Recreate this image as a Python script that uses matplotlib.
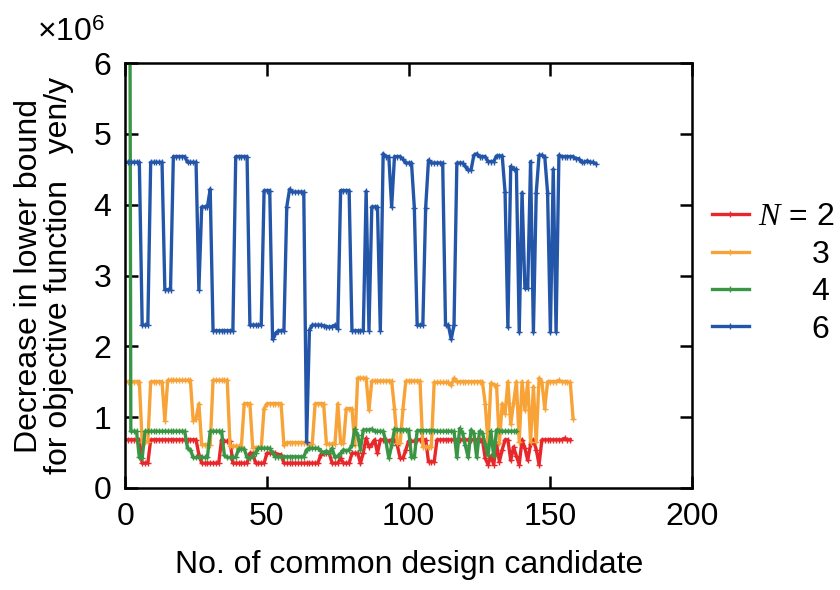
import numpy as np
import matplotlib
matplotlib.use("Agg")
import matplotlib.pyplot as plt

plt.rcParams['font.family'] = ['Liberation Sans', 'DejaVu Sans']
plt.rcParams['mathtext.fontset'] = 'custom'
plt.rcParams['mathtext.rm'] = 'Liberation Sans'
plt.rcParams['mathtext.it'] = 'Liberation Serif:italic'

# values in units of 1e6 yen/y, index = No. of common design candidate (from 1)
blue_6 = [4.6, 4.6, 4.6, 4.6, 4.6, 2.3, 2.3, 2.3, 4.6, 4.6,
          4.6, 4.6, 4.6, 2.8, 2.8, 2.8, 4.68, 4.68, 4.68, 4.68,
          4.68, 4.6, 4.6, 4.6, 4.6, 2.8, 3.97, 3.97, 3.97, 4.22,
          2.22, 2.22, 2.22, 2.22, 2.22, 2.22, 2.22, 2.22, 4.68, 4.68,
          4.68, 4.68, 4.68, 2.3, 2.3, 2.3, 2.3, 2.3, 4.2, 4.2,
          4.2, 2.1, 2.18, 2.22, 2.22, 2.22, 3.97, 4.22, 4.18, 4.18,
          4.18, 4.18, 4.18, 0.65, 2.23, 2.3, 2.3, 2.3, 2.3, 2.29,
          2.28, 2.27, 2.28, 2.3, 2.25, 4.2, 4.2, 4.2, 4.2, 2.22,
          2.22, 2.22, 2.22, 2.22, 4.19, 2.22, 3.97, 3.97, 3.97, 2.22,
          4.72, 4.68, 4.68, 3.97, 4.68, 4.68, 4.68, 4.64, 4.59, 4.59,
          4.59, 3.96, 2.3, 2.3, 2.3, 3.96, 4.63, 4.59, 4.59, 4.59,
          4.59, 4.59, 2.3, 2.3, 2.1, 2.3, 4.59, 4.59, 4.59, 4.54,
          4.49, 4.49, 4.7, 4.72, 4.68, 4.68, 4.68, 4.61, 4.61, 4.61,
          4.69, 4.69, 4.69, 4.18, 2.27, 4.54, 4.5, 4.5, 2.2, 4.17,
          2.82, 2.82, 4.61, 2.2, 4.17, 4.7, 4.7, 4.68, 4.17, 2.2,
          4.5, 2.2, 4.7, 4.68, 4.68, 4.68, 4.68, 4.68, 4.65, 4.65,
          4.6, 4.6, 4.62, 4.6, 4.6, 4.58]

orange_3 = [1.5, 1.5, 1.5, 1.5, 1.5, 0.65, 0.65, 0.65, 1.5, 1.5,
            1.5, 1.5, 1.5, 0.95, 1.52, 1.52, 1.52, 1.52, 1.52, 1.52,
            1.52, 1.52, 1.52, 0.95, 0.98, 1.19, 0.61, 0.61, 0.61, 0.61,
            1.52, 1.52, 1.52, 1.52, 1.52, 1.52, 0.59, 0.59, 0.59, 0.59,
            0.59, 1.19, 1.19, 1.19, 0.57, 0.57, 0.57, 0.57, 1.12, 1.19,
            1.19, 1.19, 1.19, 1.19, 1.19, 0.6, 0.64, 0.64, 0.64, 0.64,
            0.64, 0.64, 0.64, 0.64, 0.6, 0.62, 1.19, 1.19, 1.19, 1.19,
            0.62, 0.62, 0.62, 0.62, 1.19, 0.63, 0.63, 1.12, 1.12, 1.12,
            0.6, 1.55, 1.55, 1.55, 1.55, 1.1, 1.51, 1.51, 1.51, 1.51,
            1.51, 1.51, 1.51, 1.51, 1.12, 0.63, 0.63, 1.12, 1.51, 1.51,
            1.51, 1.51, 1.51, 1.51, 0.58, 0.58, 0.58, 0.58, 1.49, 1.49,
            1.49, 1.49, 1.49, 1.49, 1.45, 1.55, 1.5, 1.5, 1.5, 1.5,
            1.5, 1.5, 1.5, 1.5, 1.5, 1.5, 1.19, 0.63, 1.48, 1.46,
            1.45, 0.63, 1.19, 1.05, 1.5, 0.9, 1.2, 1.5, 0.65, 1.5,
            1.1, 1.5, 0.65, 1.43, 0.65, 1.55, 1.49, 1.12, 1.5, 1.5,
            1.5, 1.5, 1.52, 1.5, 1.5, 1.5, 1.49, 0.98]

red_2 = [0.68, 0.68, 0.68, 0.68, 0.68, 0.35, 0.35, 0.35, 0.68, 0.68,
         0.68, 0.68, 0.68, 0.68, 0.68, 0.68, 0.68, 0.68, 0.68, 0.68,
         0.68, 0.68, 0.68, 0.68, 0.68, 0.47, 0.35, 0.35, 0.35, 0.35,
         0.35, 0.35, 0.35, 0.68, 0.66, 0.66, 0.66, 0.35, 0.35, 0.35,
         0.35, 0.35, 0.35, 0.49, 0.49, 0.35, 0.35, 0.35, 0.35, 0.49,
         0.49, 0.49, 0.49, 0.47, 0.47, 0.35, 0.35, 0.35, 0.35, 0.35,
         0.35, 0.35, 0.35, 0.35, 0.35, 0.35, 0.35, 0.35, 0.47, 0.49,
         0.49, 0.49, 0.35, 0.35, 0.35, 0.42, 0.35, 0.35, 0.35, 0.49,
         0.49, 0.49, 0.35, 0.5, 0.7, 0.58, 0.62, 0.68, 0.49, 0.68,
         0.68, 0.68, 0.66, 0.68, 0.68, 0.6, 0.42, 0.42, 0.54, 0.66,
         0.66, 0.66, 0.68, 0.68, 0.68, 0.68, 0.37, 0.37, 0.37, 0.68,
         0.68, 0.68, 0.68, 0.68, 0.68, 0.68, 0.68, 0.68, 0.68, 0.68,
         0.68, 0.68, 0.68, 0.68, 0.68, 0.68, 0.42, 0.33, 0.45, 0.33,
         0.62, 0.37, 0.54, 0.68, 0.68, 0.39, 0.58, 0.45, 0.33, 0.68,
         0.56, 0.39, 0.62, 0.68, 0.54, 0.33, 0.68, 0.68, 0.68, 0.68,
         0.68, 0.68, 0.68, 0.68, 0.7, 0.68, 0.68]

green_4 = [20.0, 0.8, 0.8, 0.8, 0.43, 0.42, 0.8, 0.8, 0.8, 0.8,
           0.8, 0.8, 0.8, 0.8, 0.8, 0.8, 0.8, 0.8, 0.8, 0.8,
           0.8, 0.56, 0.54, 0.43, 0.43, 0.43, 0.43, 0.43, 0.43, 0.8,
           0.8, 0.8, 0.8, 0.8, 0.46, 0.43, 0.43, 0.43, 0.43, 0.55,
           0.55, 0.55, 0.43, 0.42, 0.45, 0.5, 0.56, 0.56, 0.56, 0.56,
           0.56, 0.49, 0.44, 0.44, 0.44, 0.44, 0.44, 0.44, 0.44, 0.44,
           0.44, 0.44, 0.44, 0.54, 0.56, 0.56, 0.56, 0.56, 0.52, 0.5,
           0.52, 0.5, 0.56, 0.43, 0.45, 0.49, 0.54, 0.52, 0.54, 0.6,
           0.83, 0.75, 0.54, 0.82, 0.82, 0.82, 0.83, 0.8, 0.8, 0.8,
           0.8, 0.65, 0.42, 0.6, 0.83, 0.82, 0.82, 0.82, 0.82, 0.82,
           0.43, 0.43, 0.81, 0.81, 0.81, 0.81, 0.81, 0.81, 0.81, 0.8,
           0.8, 0.8, 0.8, 0.8, 0.8, 0.8, 0.43, 0.84, 0.78, 0.6,
           0.43, 0.82, 0.78, 0.43, 0.8, 0.78, 0.62, 0.46, 0.8, 0.45,
           0.82, 0.8, 0.8, 0.8, 0.8, 0.8, 0.8, 0.8]

series = [(red_2, "#e8272b", r"$N$ = 2"),
          (orange_3, "#f7a337", r"$\hspace{2.3}$3"),
          (green_4, "#3a9645", r"$\hspace{2.3}$4"),
          (blue_6, "#2356a8", r"$\hspace{2.3}$6")]

fs = 23
fig = plt.figure(figsize=(8.4, 5.9), dpi=100)
ax = fig.add_axes([0.149, 0.173, 0.675, 0.72])

for vals, col, lab in series:
    xs = np.arange(1, len(vals) + 1)
    ax.plot(xs, vals, color=col, lw=2.4, marker='+', ms=5, mew=1, label=lab)

ax.set_xlim(0, 200)
ax.set_ylim(0, 6)
ax.set_xticks([0, 50, 100, 150, 200])
ax.set_yticks([0, 1, 2, 3, 4, 5, 6])
ax.tick_params(direction='in', length=9, width=1.8, labelsize=fs,
               top=True, right=True, pad=10)
for sp in ax.spines.values():
    sp.set_linewidth(1.8)

ax.set_xlabel("No. of common design candidate", fontsize=fs, labelpad=13)
ax.set_ylabel("Decrease in lower bound\nfor objective function   yen/y",
              fontsize=fs, labelpad=14, linespacing=1.0)
ax.text(-0.035, 1.035, "×10$^{6}$", transform=ax.transAxes, fontsize=fs,
        ha='right', va='bottom')

leg = ax.legend(loc='upper left', bbox_to_anchor=(1.035, 0.672), frameon=False,
                fontsize=fs, handlelength=1.15, handletextpad=0.3,
                labelspacing=0.23, borderaxespad=0, borderpad=0)

fig.savefig("out.png", dpi=100)
